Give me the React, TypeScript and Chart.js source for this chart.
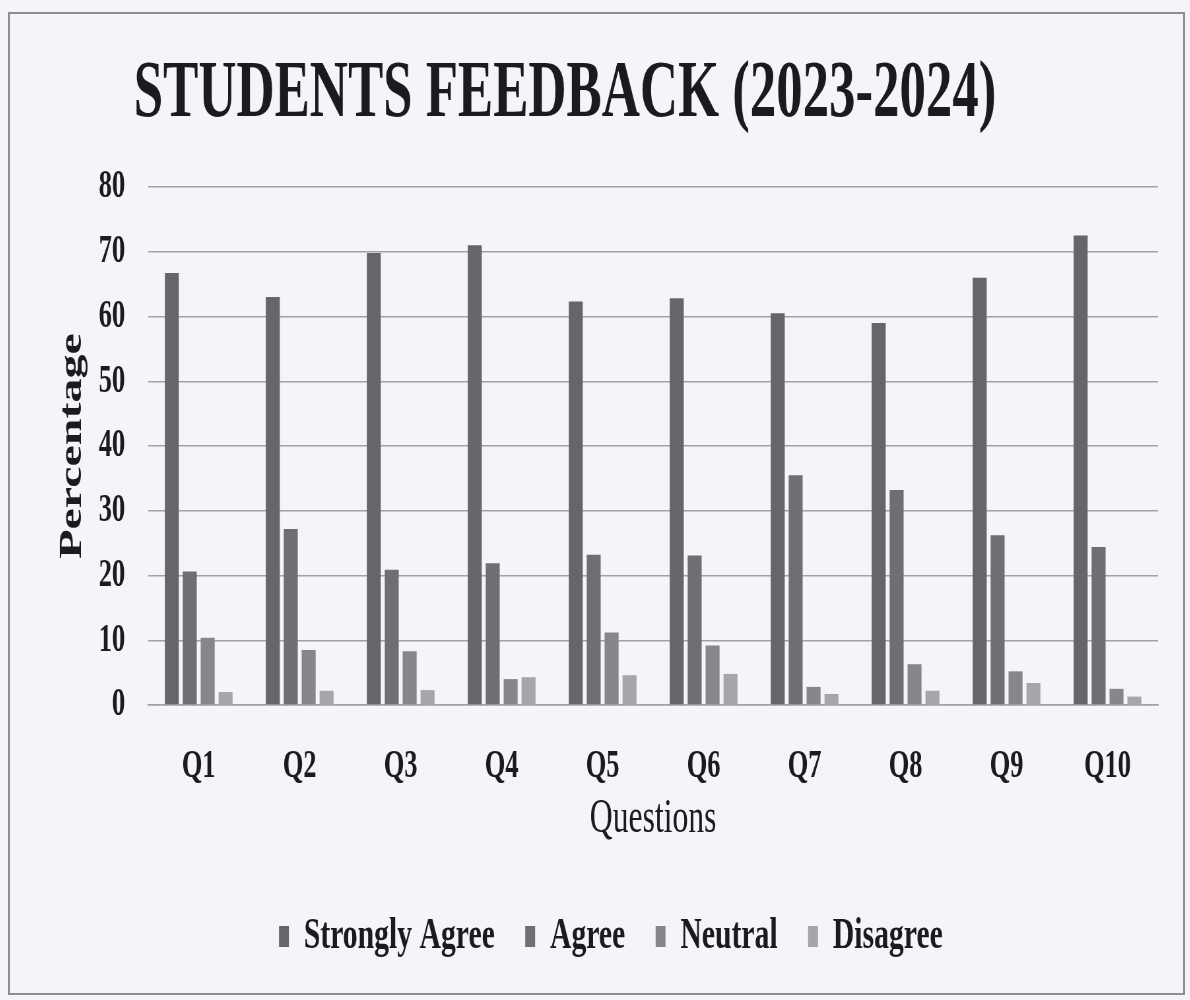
import React, { useEffect, useRef } from 'react';
import { Chart, registerables } from 'chart.js';

Chart.register(...registerables);

// ---- data ----
const CATEGORIES = ['Q1', 'Q2', 'Q3', 'Q4', 'Q5', 'Q6', 'Q7', 'Q8', 'Q9', 'Q10'];
const STRONGLY_AGREE = [66.7, 63.0, 69.8, 71.0, 62.3, 62.8, 60.5, 59.0, 66.0, 72.5];
const AGREE = [20.6, 27.2, 20.9, 21.9, 23.2, 23.1, 35.5, 33.2, 26.2, 24.4];
const NEUTRAL = [10.4, 8.5, 8.3, 4.0, 11.2, 9.2, 2.8, 6.3, 5.2, 2.5];
const DISAGREE = [2.0, 2.2, 2.3, 4.3, 4.6, 4.8, 1.7, 2.2, 3.4, 1.3];
const SERIES_NAMES = ['Strongly Agree', 'Agree', 'Neutral', 'Disagree'];
const Y_MIN = 0;
const Y_MAX = 80;
const Y_STEP = 10;
const TITLE = 'STUDENTS FEEDBACK (2023-2024)';
const X_TITLE = 'Questions';
const Y_TITLE = 'Percentage';

// ---- style ----
const SERIES_COLORS = ['#666669', '#6f6f72', '#87878a', '#a6a6a9'];
const TEXT = '#1b1b1d';
const GRID = '#a2a2a6';
const BG = '#f5f4f9';
const SERIF = '"Liberation Serif", "Times New Roman", serif';

// horizontal compression of the whole drawing (the reference is condensed)
const SQUISH = 0.66;
const CANVAS_LEFT = -28;
const CANVAS_W = Math.round((1160 - CANVAS_LEFT) / SQUISH);
const CANVAS_H = 1000;
const PLOT_LEFT = Math.round((148 - CANVAS_LEFT) / SQUISH);
const LEGEND_SHIFT = -64;

const legendShift = {
  id: 'legendShift',
  afterUpdate(chart: any) {
    const lg = chart.legend;
    if (lg) {
      lg.left += LEGEND_SHIFT;
      lg.right += LEGEND_SHIFT;
    }
  },
};

export default function App() {
  const ref = useRef<HTMLCanvasElement>(null);

  useEffect(() => {
    const seriesValues = [STRONGLY_AGREE, AGREE, NEUTRAL, DISAGREE];
    const chart = new Chart(ref.current as HTMLCanvasElement, {
      type: 'bar',
      data: {
        labels: CATEGORIES,
        datasets: SERIES_NAMES.map((name, i) => ({
          label: name,
          data: seriesValues[i],
          backgroundColor: SERIES_COLORS[i],
          borderWidth: 0,
          categoryPercentage: 0.71,
          barPercentage: 0.78,
        })),
      },
      plugins: [legendShift],
      options: {
        animation: false,
        responsive: false,
        devicePixelRatio: 1,
        layout: { padding: { top: 20, bottom: 31, left: 0, right: 3 } },
        plugins: {
          title: {
            display: true,
            text: TITLE,
            color: TEXT,
            font: { family: SERIF, size: 80, weight: 'bold' },
            padding: { top: 27, bottom: 44 },
          },
          legend: {
            position: 'bottom',
            fullSize: false,
            labels: {
              color: TEXT,
              font: { family: SERIF, size: 45, weight: 'bold' },
              boxWidth: 15,
              boxHeight: 21,
              padding: 46,
            },
          },
          tooltip: { enabled: false },
        },
        scales: {
          x: {
            grid: { display: false },
            border: { display: true, color: GRID, width: 1.5 },
            ticks: {
              color: TEXT,
              padding: 30,
              font: { family: SERIF, size: 40, weight: 'bold' },
            },
            title: {
              display: true,
              text: X_TITLE,
              color: TEXT,
              font: { family: SERIF, size: 48, weight: 'normal' },
              padding: { top: 0, bottom: 20 },
            },
            afterFit: (s: any) => {
              s.height = 163;
            },
          },
          y: {
            min: Y_MIN,
            max: Y_MAX,
            ticks: {
              stepSize: Y_STEP,
              color: TEXT,
              padding: 35,
              font: { family: SERIF, size: 40, weight: 'bold' },
            },
            grid: { color: GRID, lineWidth: 1.5, drawTicks: false },
            border: { display: false },
            title: {
              display: true,
              text: Y_TITLE,
              color: TEXT,
              font: { family: SERIF, size: 48, weight: 'bold' },
              padding: { top: 124, bottom: 0 },
            },
            afterFit: (s: any) => {
              s.width = PLOT_LEFT;
            },
          },
        },
      },
    });
    return () => chart.destroy();
  }, []);

  return (
    <div
      style={{
        position: 'fixed',
        left: 0,
        top: 0,
        width: 1190,
        height: 1000,
        background: BG,
        overflow: 'hidden',
      }}
    >
      <div
        style={{
          position: 'absolute',
          left: 8,
          top: 12,
          width: 1177,
          height: 983,
          border: '2px solid #8e8e92',
          boxSizing: 'border-box',
        }}
      />
      <div
        style={{
          position: 'absolute',
          left: CANVAS_LEFT,
          top: 0,
          width: CANVAS_W,
          height: CANVAS_H,
          transform: `scaleX(${SQUISH})`,
          transformOrigin: '0 0',
        }}
      >
        <canvas ref={ref} width={CANVAS_W} height={CANVAS_H} />
      </div>
    </div>
  );
}
